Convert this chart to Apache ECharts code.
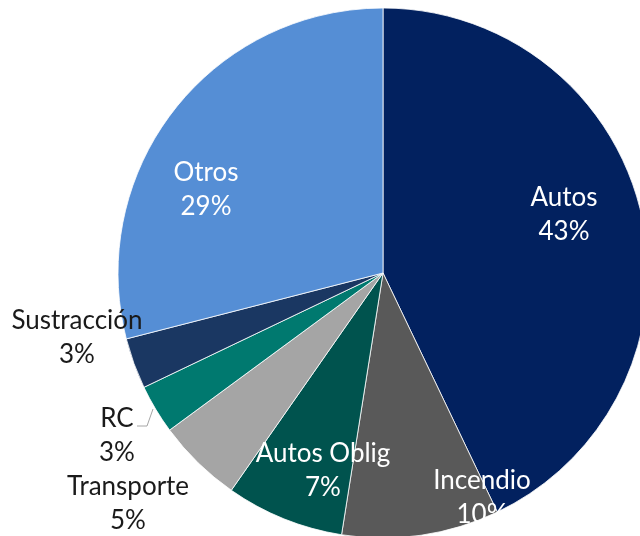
<!DOCTYPE html>
<html>
<head>
<meta charset="utf-8">
<script src="https://cdn.jsdelivr.net/npm/echarts@6/dist/echarts.min.js"></script>
<style>
    html, body { margin: 0; padding: 0; background: #fff; }
    #chart { width: 640px; height: 536px; }
</style>
</head>
<body>
<div id="chart"></div>
<script>
// Share by line of business (clockwise from 12 o'clock)
const categories = ['Autos', 'Incendio', 'Autos Oblig', 'Transporte', 'RC', 'Sustracción', 'Otros'];
const shares = [42.9, 9.6, 7.2, 5.2, 3.0, 3.1, 29.0];

// Styling per slice
const sliceColors = ['#02215F', '#595959', '#00534E', '#A5A5A5', '#00796F', '#1A3762', '#558ED5'];
const labelInside = [true, true, true, false, false, false, true];
// Label centres in px
const labelPos = [[564, 215], [482, 498], [323, 471], [128, 504], [117, 436], [77, 338], [206, 190]];

document.addEventListener('DOMContentLoaded', function() {
    initPie();
});

function initPie() {
    const chart = echarts.init(document.getElementById('chart'));

    const data = categories.map((name, i) => ({
        name: name,
        value: shares[i],
        itemStyle: { color: sliceColors[i] },
        label: { color: labelInside[i] ? '#ffffff' : '#1a1a1a' },
        labelLine: { show: name === 'RC' }
    }));

    chart.setOption({
        animation: false,
        backgroundColor: '#ffffff',
        series: [{
            type: 'pie',
            center: [383, 273],
            radius: 265,
            startAngle: 90,
            clockwise: true,
            avoidLabelOverlap: false,
            percentPrecision: 0,
            itemStyle: { borderColor: '#ffffff', borderWidth: 0.8 },
            label: {
                show: true,
                position: 'outside',
                formatter: '{b}\n{d}%',
                fontFamily: 'Lato',
                fontSize: 26,
                lineHeight: 34,
                align: 'center'
            },
            labelLine: {
                lineStyle: { color: '#a6a6a6', width: 1 }
            },
            labelLayout: function(params) {
                const p = labelPos[params.dataIndex];
                const out = { x: p[0], y: p[1], align: 'center', verticalAlign: 'middle' };
                if (categories[params.dataIndex] === 'RC') {
                    out.labelLinePoints = [[153, 409], [147, 426], [137, 426]];
                }
                return out;
            },
            data: data
        }]
    });
}
</script>
</body>
</html>
